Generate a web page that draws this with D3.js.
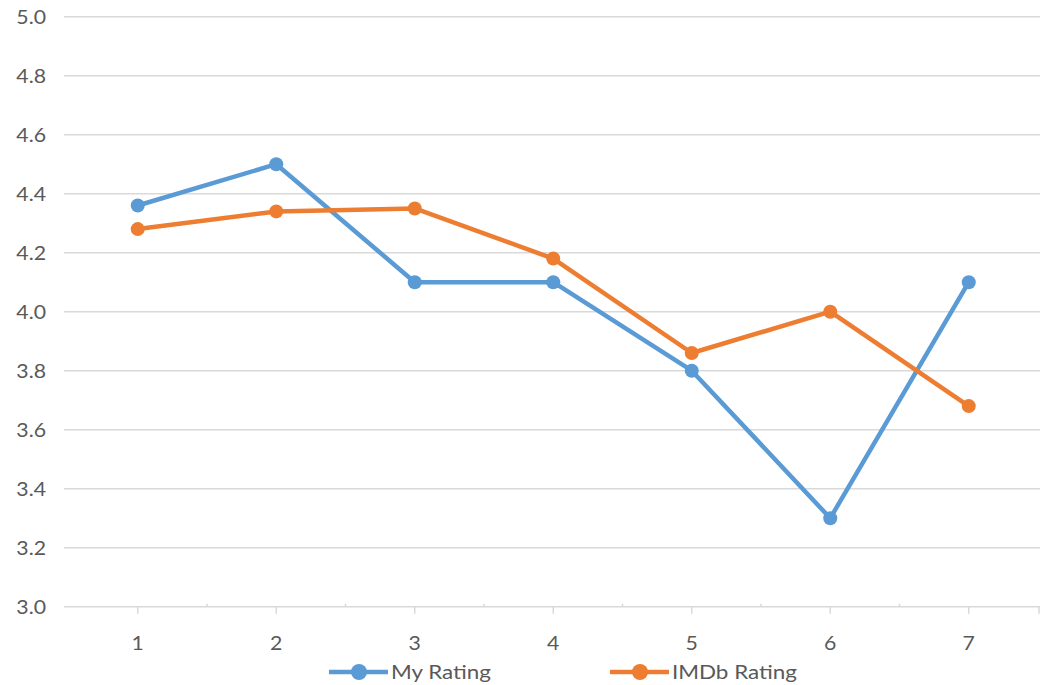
<!DOCTYPE html>
<html>
<head>
<meta charset="utf-8">
<script src="https://cdn.jsdelivr.net/npm/d3@7"></script>
<style>
  body { margin: 0; background: #fff; }
  svg { display: block; font-family: Lato, "Open Sans", sans-serif; }
  .grid line { stroke: #d9d9d9; stroke-width: 1.5; }
  .tick-label { fill: #595959; font-size: 19px; }
  .legend text { fill: #595959; font-size: 20px; }
</style>
</head>
<body>
<svg width="1051" height="685"></svg>
<script>
var categories = ["1", "2", "3", "4", "5", "6", "7"];
var myRating = [4.36, 4.5, 4.1, 4.1, 3.8, 3.3, 4.1];
var imdbRating = [4.28, 4.34, 4.35, 4.18, 3.86, 4.0, 3.68];
var yTicks = [3.0, 3.2, 3.4, 3.6, 3.8, 4.0, 4.2, 4.4, 4.6, 4.8, 5.0];

var seriesList = [
    { name: "My Rating", values: myRating, color: "#5b9bd5" },
    { name: "IMDb Rating", values: imdbRating, color: "#ed7d31" }
];

var svg = d3.select("svg"),
    plotLeft = 68.5,
    plotRight = 1038,
    plotTop = 16.7,
    plotBottom = 606.7,
    stretch = 1.12; // text in the picture is a bit wide

function place(px, py) {
    return "translate(" + px + "," + py + ") scale(" + stretch + ",1)";
}

var x = d3.scalePoint()
    .domain(categories)
    .range([plotLeft, plotRight])
    .padding(0.5);

var y = d3.scaleLinear()
    .domain([3.0, 5.0])
    .range([plotBottom, plotTop]);

// gridlines
var grid = svg.append("g").attr("class", "grid");
grid.selectAll("line")
    .data(yTicks)
    .enter().append("line")
    .attr("x1", 64)
    .attr("x2", 1040)
    .attr("y1", d => y(d))
    .attr("y2", d => y(d));

// y labels
svg.append("g").selectAll("text")
    .data(yTicks)
    .enter().append("text")
    .attr("class", "tick-label")
    .attr("transform", d => place(46, y(d) + 7))
    .attr("text-anchor", "end")
    .text(d => d.toFixed(1));

// x axis ticks
var step = x.step();
svg.append("g").selectAll("line")
    .data(categories)
    .enter().append("line")
    .attr("x1", d => x(d))
    .attr("x2", d => x(d))
    .attr("y1", plotBottom)
    .attr("y2", plotBottom + 7)
    .attr("stroke", "#d9d9d9")
    .attr("stroke-width", 1.5);

svg.append("g").selectAll("line")
    .data(categories.slice(0, -1))
    .enter().append("line")
    .attr("x1", d => x(d) + step / 2)
    .attr("x2", d => x(d) + step / 2)
    .attr("y1", plotBottom)
    .attr("y2", plotBottom - 3)
    .attr("stroke", "#d9d9d9")
    .attr("stroke-width", 1.5);

svg.append("line")
    .attr("x1", plotRight + 1).attr("x2", plotRight + 1)
    .attr("y1", plotBottom).attr("y2", plotBottom + 7)
    .attr("stroke", "#d9d9d9").attr("stroke-width", 1.5);

svg.append("g").selectAll("text")
    .data(categories)
    .enter().append("text")
    .attr("class", "tick-label")
    .attr("transform", d => place(x(d), 650))
    .attr("text-anchor", "middle")
    .text(d => d);

// series
var line = d3.line()
    .x((d, i) => x(categories[i]))
    .y(d => y(d));

seriesList.forEach(s => {
    var g = svg.append("g");
    g.append("path")
        .attr("d", line(s.values))
        .attr("fill", "none")
        .attr("stroke", s.color)
        .attr("stroke-width", 4.5)
        .attr("stroke-linejoin", "round");
    g.selectAll("circle")
        .data(s.values)
        .enter().append("circle")
        .attr("cx", (d, i) => x(categories[i]))
        .attr("cy", d => y(d))
        .attr("r", 7)
        .attr("fill", s.color);
});

// legend
var legendX = [329, 610];
var legend = svg.append("g").attr("class", "legend");
seriesList.forEach((s, i) => {
    var lg = legend.append("g")
        .attr("transform", "translate(" + legendX[i] + ",672)");
    lg.append("line")
        .attr("x1", 0).attr("x2", 59)
        .attr("stroke", s.color)
        .attr("stroke-width", 4.5);
    lg.append("circle")
        .attr("cx", 30).attr("r", 8)
        .attr("fill", s.color);
    lg.append("text")
        .attr("transform", place(62, 7))
        .text(s.name);
});
</script>
</body>
</html>
